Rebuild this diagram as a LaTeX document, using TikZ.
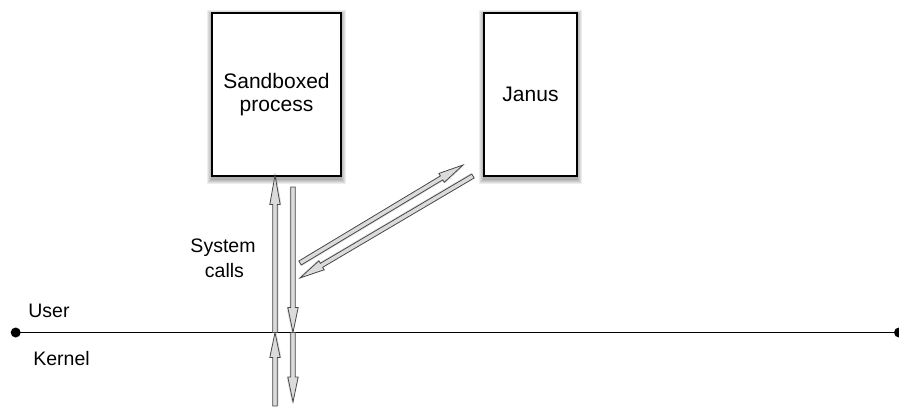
\documentclass[tikz,border=0pt]{standalone}
\usepackage{fontspec}
\setmainfont{Liberation Sans}
\usetikzlibrary{calc,backgrounds}
\tikzset{
  box/.style={draw=black, line width=1.4pt, fill=white, minimum height=163pt,
     inner sep=0pt, align=center, font=\fontsize{21}{23.5}\selectfont},
  lbl/.style={font=\fontsize{19.5}{25}\selectfont, inner sep=0pt, anchor=base},
  hollow/.style={draw=black!72, line width=0.8pt, fill=black!14, line join=miter},
  bar/.style={line width=1.4pt, draw=black},
}
\newcommand\hollowarrow[3][25pt]{%
  \path let \p1=(#2), \p2=(#3), \n1={atan2(\y2-\y1,\x2-\x1)}, \n2={veclen(\x2-\x1,\y2-\y1)} in
    \pgfextra{\xdef\haang{\n1}\xdef\halen{\n2}\xdef\hax{\x1}\xdef\hay{\y1}};
  \begin{scope}[shift={(\hax,\hay)}, rotate=\haang]
    \fill[black, opacity=0.12, shift={(0.5pt,-1.2pt)}]
      (0pt,-2.3pt) -- ({\halen-#1},-2.3pt) -- ({\halen-#1},-5.2pt) -- (\halen,0pt)
      -- ({\halen-#1},5.2pt) -- ({\halen-#1},2.3pt) -- (0pt,2.3pt) -- cycle;
    \filldraw[hollow]
      (0pt,-2.3pt) -- ({\halen-#1},-2.3pt) -- ({\halen-#1},-5.2pt) -- (\halen,0pt)
      -- ({\halen-#1},5.2pt) -- ({\halen-#1},2.3pt) -- (0pt,2.3pt) -- cycle;
  \end{scope}}
\newcommand\softshadow[1]{%
  \foreach \b in {0.5,1.5,2.5,3.5,4.5}
    \fill[black, opacity=0.07]
      ([shift={(-\b pt+0.5pt,-2.5pt-\b pt)}]#1.south west) rectangle
      ([shift={(\b pt-0.5pt,-2.5pt+\b pt)}]#1.north east);}
\begin{document}
\begin{tikzpicture}[x=1pt,y=-1pt]
\useasboundingbox (0,0) rectangle (899,407);
% boxes
\node[box, minimum width=129pt] (sb) at (276.5,94.5) {Sandboxed\\process};
\node[box, minimum width=93pt] (jan) at (530.5,94.5) {Janus};
\begin{scope}[on background layer]
  \fill[white] (0,0) rectangle (899,407);
  \softshadow{sb}
  \softshadow{jan}
\end{scope}
% user / kernel line
\coordinate (lineL) at (15.7,332.5);
\coordinate (lineR) at (899,332.5);
\draw[bar] (lineL) -- (lineR);
\fill (lineL) circle (5pt);
\fill (lineR) circle (5pt);
\node[lbl] (user) at (49,317) {User};
\node[lbl] (kernel) at (61.5,365) {Kernel};
\node[lbl] (sys1) at (223,252) {System};
\node[lbl] (sys2) at (224.5,277) {calls};
% arrow end points
\coordinate (u1s) at (275,406);
\coordinate (u1e) at (275,332.5);
\coordinate (u2s) at (275,332.5);
\coordinate (u2e) at (275,175.5);
\coordinate (d1s) at (293,187);
\coordinate (d1e) at (293,332.5);
\coordinate (d2s) at (293,332.5);
\coordinate (d2e) at (293,402);
\coordinate (g1s) at (300,263);
\coordinate (g1e) at (463,165);
\coordinate (g2s) at (473,176);
\coordinate (g2e) at (300,278);
\hollowarrow{u1s}{u1e}
\hollowarrow[29pt]{u2s}{u2e}
\hollowarrow{d1s}{d1e}
\hollowarrow{d2s}{d2e}
\hollowarrow{g1s}{g1e}
\hollowarrow{g2s}{g2e}
\end{tikzpicture}
\end{document}
